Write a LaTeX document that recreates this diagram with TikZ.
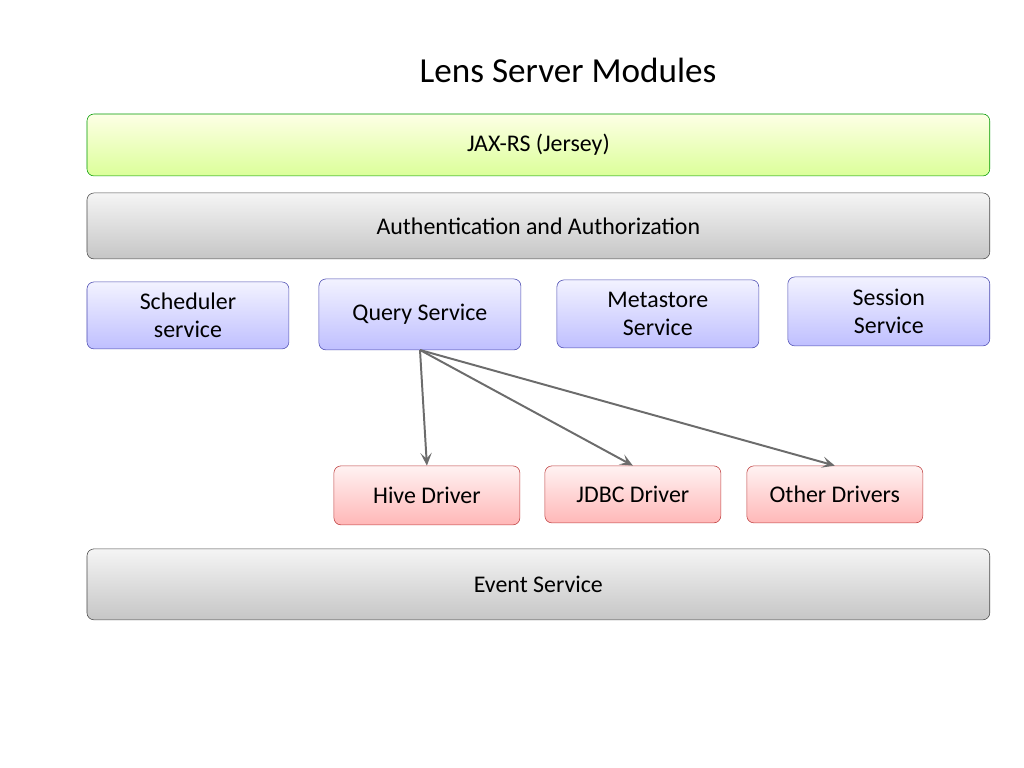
\documentclass[tikz,border=0pt]{standalone}
\usepackage{fontspec}
\setmainfont{Carlito}
\usetikzlibrary{arrows.meta}
\tikzset{
  box/.style={draw=#1!60!black, rounded corners=5pt, inner sep=0pt, align=center, font=\fontsize{17}{20}\selectfont},
  green box/.style={box=green, top color=green!6!yellow!10, bottom color=green!35!yellow!40},
  gray box/.style={box=gray, top color=gray!8, bottom color=gray!45},
  blue box/.style={box=blue, draw=blue!40!gray, top color=blue!5, bottom color=blue!25},
  red box/.style={box=red, draw=red!50!gray, top color=red!5, bottom color=red!28},
  link/.style={-{Stealth[length=9pt,width=8pt,inset=4pt]}, draw=gray!85!black, line width=1.4pt}
}
\newcommand{\modbox}[6]{% name, style, x1, y1, x2, y2, text
  \node[#2, minimum width={(#5-#3)*0.025cm}, minimum height={(#6-#4)*0.025cm}] (#1) at ({(#3+#5)/2*0.025}, {-(#4+#6)/2*0.025})}
\begin{document}
\begin{tikzpicture}
  \useasboundingbox (0,0) rectangle (25.6,-19.2);
  % title
  \node[font=\fontsize{25}{30}\selectfont] (title) at (14.2,-1.75) {Lens Server Modules};
  % layers
  \modbox{jax}{green box}{87}{114}{990}{176} {JAX-RS (Jersey)};
  \modbox{auth}{gray box}{87}{193}{990}{259} {Authentication and Authorization};
  % services
  \modbox{sched}{blue box}{87}{282}{289}{349} {Scheduler\\service};
  \modbox{query}{blue box}{319}{279}{521}{350} {Query Service};
  \modbox{meta}{blue box}{557}{280}{759}{348} {Metastore\\Service};
  \modbox{sess}{blue box}{788}{277}{990}{346} {Session\\Service};
  % drivers
  \modbox{hive}{red box}{334}{466}{520}{525} {Hive Driver};
  \modbox{jdbc}{red box}{545}{466}{721}{523} {JDBC Driver};
  \modbox{other}{red box}{747}{466}{923}{523} {Other Drivers};
  \modbox{event}{gray box}{87}{549}{990}{620} {Event Service};
  % connectors
  \coordinate (qs) at (10.5,-8.75);
  \draw[link] (qs) -- (hive.north);
  \draw[link] (qs) -- (jdbc.north);
  \draw[link] (qs) -- (other.north);
\end{tikzpicture}
\end{document}
